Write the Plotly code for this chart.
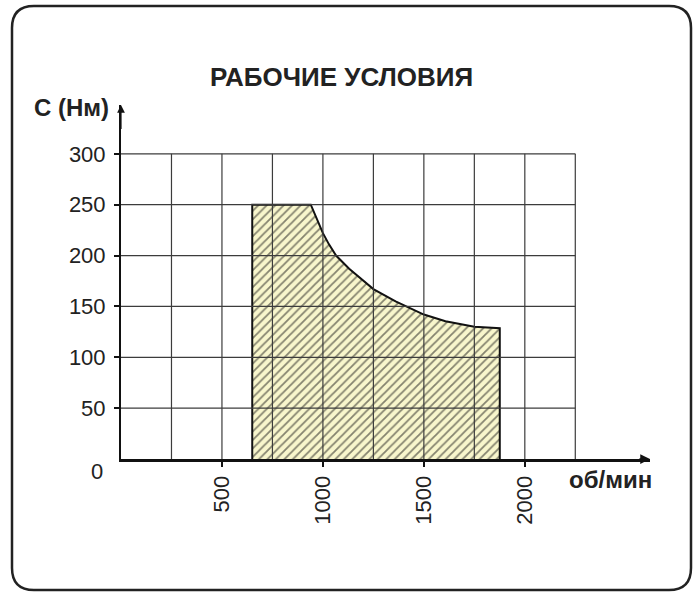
import plotly.graph_objects as go

# ---- data ----
rpm = [650, 650, 940, 969, 1000, 1030, 1065, 1130, 1196, 1250, 1360, 1500, 1607, 1750, 1876, 1876]
torque = [0, 250, 250, 237, 222, 211, 200, 187, 176, 167, 155, 142, 135.5, 130, 128.5, 0]
x_grid = [250, 500, 750, 1000, 1250, 1500, 1750, 2000, 2250]
y_grid = [50, 100, 150, 200, 250, 300]
x_ticks = [500, 1000, 1500, 2000]
y_ticks = [50, 100, 150, 200, 250, 300]
title_text = "РАБОЧИЕ УСЛОВИЯ"
y_label = "С (Нм)"
x_label = "об/мин"

# ---- layout constants (pixels) ----
W, H = 700, 592
L, R, T, B = 121, 50, 105, 133
XMAX, YMAX = 2620, 348
FONT = "Liberation Sans, Arial, sans-serif"

pw = W - L - R
ph = H - T - B


def px(x):
    return (x - L) / pw


def py(y):
    return (H - B - y) / ph


fig = go.Figure()
fig.add_trace(go.Scatter(
    x=rpm, y=torque, mode="lines", fill="toself",
    line=dict(color="#111111", width=2),
    fillcolor="#f8f6cc",
    fillpattern=dict(shape="/", fgcolor="#111111", bgcolor="#f8f6cc", size=6, solidity=0.3),
    hoverinfo="skip", showlegend=False,
))

shapes = []
for gx in x_grid:
    shapes.append(dict(type="line", xref="x", yref="y", x0=gx, x1=gx, y0=0, y1=max(y_grid),
                       line=dict(color="#3c3c3c", width=1.2), layer="above"))
for gy in y_grid:
    shapes.append(dict(type="line", xref="x", yref="y", x0=0, x1=max(x_grid), y0=gy, y1=gy,
                       line=dict(color="#3c3c3c", width=1.2), layer="above"))

# rounded outer frame
x0, y0, x1, y1, r = 12, 6, 691, 590, 22
path = (f"M {px(x0 + r)},{py(y0)} L {px(x1 - r)},{py(y0)} "
        f"Q {px(x1)},{py(y0)} {px(x1)},{py(y0 + r)} "
        f"L {px(x1)},{py(y1 - r)} Q {px(x1)},{py(y1)} {px(x1 - r)},{py(y1)} "
        f"L {px(x0 + r)},{py(y1)} Q {px(x0)},{py(y1)} {px(x0)},{py(y1 - r)} "
        f"L {px(x0)},{py(y0 + r)} Q {px(x0)},{py(y0)} {px(x0 + r)},{py(y0)} Z")
shapes.append(dict(type="path", xref="paper", yref="paper", path=path,
                   line=dict(color="#222222", width=2.5), layer="above"))

annotations = [
    dict(text=f"<b>{title_text}</b>", x=px(341), y=py(77), xref="paper", yref="paper",
         xanchor="center", yanchor="middle",
         showarrow=False, font=dict(family=FONT, size=26, color="#222222")),
    dict(text=f"<b>{y_label}</b>", x=px(71), y=py(108), xref="paper", yref="paper",
         xanchor="center", yanchor="middle",
         showarrow=False, font=dict(family=FONT, size=24, color="#222222")),
    dict(text=f"<b>{x_label}</b>", x=px(610), y=py(479), xref="paper", yref="paper",
         xanchor="center", yanchor="middle",
         showarrow=False, font=dict(family=FONT, size=24, color="#222222")),
    dict(text="0", x=0, y=0, xref="x", yref="y", xanchor="right", yanchor="middle",
         xshift=-16, yshift=-12, showarrow=False, font=dict(family=FONT, size=22, color="#222222")),
    # axis arrows
    dict(x=XMAX, y=0, ax=XMAX - 60, ay=0, xref="x", yref="y", axref="x", ayref="y",
         showarrow=True, arrowhead=2, arrowsize=1.3, arrowwidth=1.5, arrowcolor="#111111", text=""),
    dict(x=0, y=YMAX, ax=0, ay=YMAX - 25, xref="x", yref="y", axref="x", ayref="y",
         showarrow=True, arrowhead=2, arrowsize=1.3, arrowwidth=1.2, arrowcolor="#111111", text=""),
]

fig.update_layout(
    width=W, height=H,
    margin=dict(l=L, r=R, t=T, b=B, pad=0),
    paper_bgcolor="white", plot_bgcolor="white",
    shapes=shapes, annotations=annotations,
    showlegend=False,
    xaxis=dict(range=[0, XMAX], showgrid=False, zeroline=False, showline=True,
               linecolor="#111111", linewidth=3, tickvals=x_ticks, ticktext=[str(v) for v in x_ticks],
               ticks="outside", ticklen=5, tickwidth=1.5, tickcolor="#111111", tickangle=-90,
               tickfont=dict(family=FONT, size=22, color="#222222"), fixedrange=True),
    yaxis=dict(range=[0, YMAX], showgrid=False, zeroline=False, showline=True,
               linecolor="#111111", linewidth=2, tickvals=y_ticks, ticktext=[str(v) for v in y_ticks],
               ticks="outside", ticklen=5, tickwidth=1.5, tickcolor="#111111", ticklabelstandoff=4,
               tickfont=dict(family=FONT, size=22, color="#222222"), fixedrange=True),
)

fig.write_html("out.html", config={"displayModeBar": False},
               post_script="document.body.style.margin='0';document.body.style.overflow='hidden';")
